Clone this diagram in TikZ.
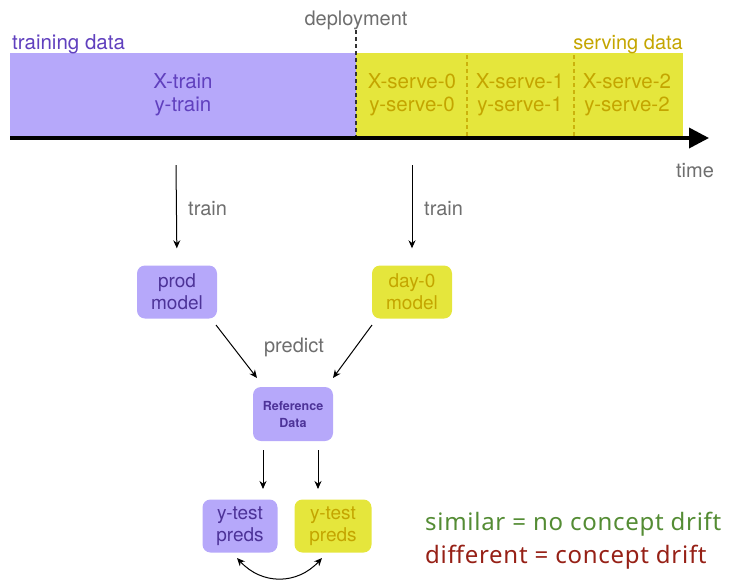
\documentclass[tikz,border=0pt]{standalone}
\usepackage{fontspec}
\setmainfont{TeX Gyre Heros}
\newfontfamily\notefont[LetterSpace=3]{Noto Sans}
\usetikzlibrary{arrows.meta}
\definecolor{pfill}{RGB}{182,168,250}
\definecolor{yfill}{RGB}{229,230,60}
\definecolor{ptext}{RGB}{96,64,190}
\definecolor{ytext}{RGB}{196,165,0}
\definecolor{gtext}{RGB}{110,110,110}
\definecolor{okgreen}{RGB}{84,140,52}
\definecolor{badred}{RGB}{150,32,22}
\tikzset{
  band/.style={draw=none,inner sep=0pt,align=center,font=\fontsize{20.5}{23}\selectfont},
  pband/.style={band,fill=pfill,text=ptext},
  yband/.style={band,fill=yfill,text=ytext},
  box/.style={rounded corners=8pt,inner sep=0pt,minimum width=80pt,minimum height=53pt,align=center,font=\fontsize{19}{22}\selectfont},
  pbox/.style={box,fill=pfill,text=ptext!80!black},
  ybox/.style={box,fill=yfill,text=ytext},
  lbl/.style={text=gtext,font=\fontsize{20}{22}\selectfont,inner sep=0pt},
  arr/.style={-{Stealth[length=8pt,width=7pt]},line width=1pt},
  seg/.style={dashed,line width=1.3pt,dash pattern=on 4pt off 3pt}
}
\begin{document}
\begin{tikzpicture}[x=1pt,y=-1pt]
\useasboundingbox (0,0) rectangle (748,582);
% bands
\node[pband,minimum width=346pt,minimum height=84pt] (train) at (183,95) {X-train\\y-train};
\node[yband,minimum width=327pt,minimum height=84pt] (serve) at (519.5,95) {};
\node[yband,fill=none] (s0) at (412,95) {X-serve-0\\y-serve-0};
\node[yband,fill=none] (s1) at (520,95) {X-serve-1\\y-serve-1};
\node[yband,fill=none] (s2) at (627,95) {X-serve-2\\y-serve-2};
% separators
\coordinate (d0) at (356,30); \coordinate (d1) at (356,137);
\draw[seg,black!80] (d0) -- (d1);
\coordinate (e0) at (467,55); \coordinate (e1) at (467,137);
\draw[seg,ytext!80!yfill,line width=1.1pt] (e0) -- (e1);
\coordinate (f0) at (574,55); \coordinate (f1) at (574,137);
\draw[seg,ytext!80!yfill,line width=1.1pt] (f0) -- (f1);
% timeline
\coordinate (t0) at (10,138); \coordinate (t1) at (709,138);
\draw[line width=3.6pt,-{Triangle[length=20pt,width=20pt]}] (t0) -- (t1);
% labels
\node[lbl,anchor=base] (dep) at (356,25) {deployment};
\node[inner sep=0pt,anchor=base west,text=ptext,font=\fontsize{20.5}{22}\selectfont] (tdl) at (12,49) {training data};
\node[inner sep=0pt,anchor=base east,text=ytext,font=\fontsize{20}{22}\selectfont] (sdl) at (683,49) {serving data};
\node[lbl,anchor=base] (time) at (695,177) {time};
% models
\node[pbox] (prod) at (177,292) {prod\\model};
\node[ybox] (day0) at (412,292) {day-0\\model};
\coordinate (a0) at (176,165); \coordinate (b0) at (412,165);
\draw[arr,shorten >=17pt] (a0) -- (prod.north);
\draw[arr,shorten >=17pt] (b0) -- (day0.north);
\node[lbl,anchor=west] (tr1) at (188,209) {train};
\node[lbl,anchor=west] (tr2) at (424,209) {train};
% reference data
\node[pbox,minimum width=80pt,minimum height=54pt,font=\fontsize{12.5}{17}\selectfont\bfseries] (ref) at (293,414) {Reference\\Data};
\coordinate (p0) at (216,325); \coordinate (p1) at (257,378);
\coordinate (q0) at (372,325); \coordinate (q1) at (333,378);
\draw[arr] (p0) -- (p1);
\draw[arr] (q0) -- (q1);
\node[lbl] (pred) at (294,347) {predict};
% preds
\node[pbox,minimum width=75pt] (yp) at (240,526) {y-test\\preds};
\node[ybox,minimum width=77pt] (yy) at (333,526) {y-test\\preds};
\coordinate (r0) at (263,450); \coordinate (r1) at (263,489);
\coordinate (u0) at (318,450); \coordinate (u1) at (318,489);
\draw[arr] (r0) -- (r1);
\draw[arr] (u0) -- (u1);
\coordinate (c0) at (237,558); \coordinate (c1) at (322,558);
\draw[{Stealth[length=8pt,width=7pt]}-{Stealth[length=8pt,width=7pt]},line width=1pt] (c0) .. controls (262,585) and (297,585) .. (c1);
% conclusion
\node[inner sep=0pt,anchor=base west,text=okgreen,font=\notefont\fontsize{24}{26}\selectfont] (sim) at (425,530) {similar = no concept drift};
\node[inner sep=0pt,anchor=base west,text=badred,font=\notefont\fontsize{24}{26}\selectfont] (diff) at (425,563) {different = concept drift};
\end{tikzpicture}
\end{document}
